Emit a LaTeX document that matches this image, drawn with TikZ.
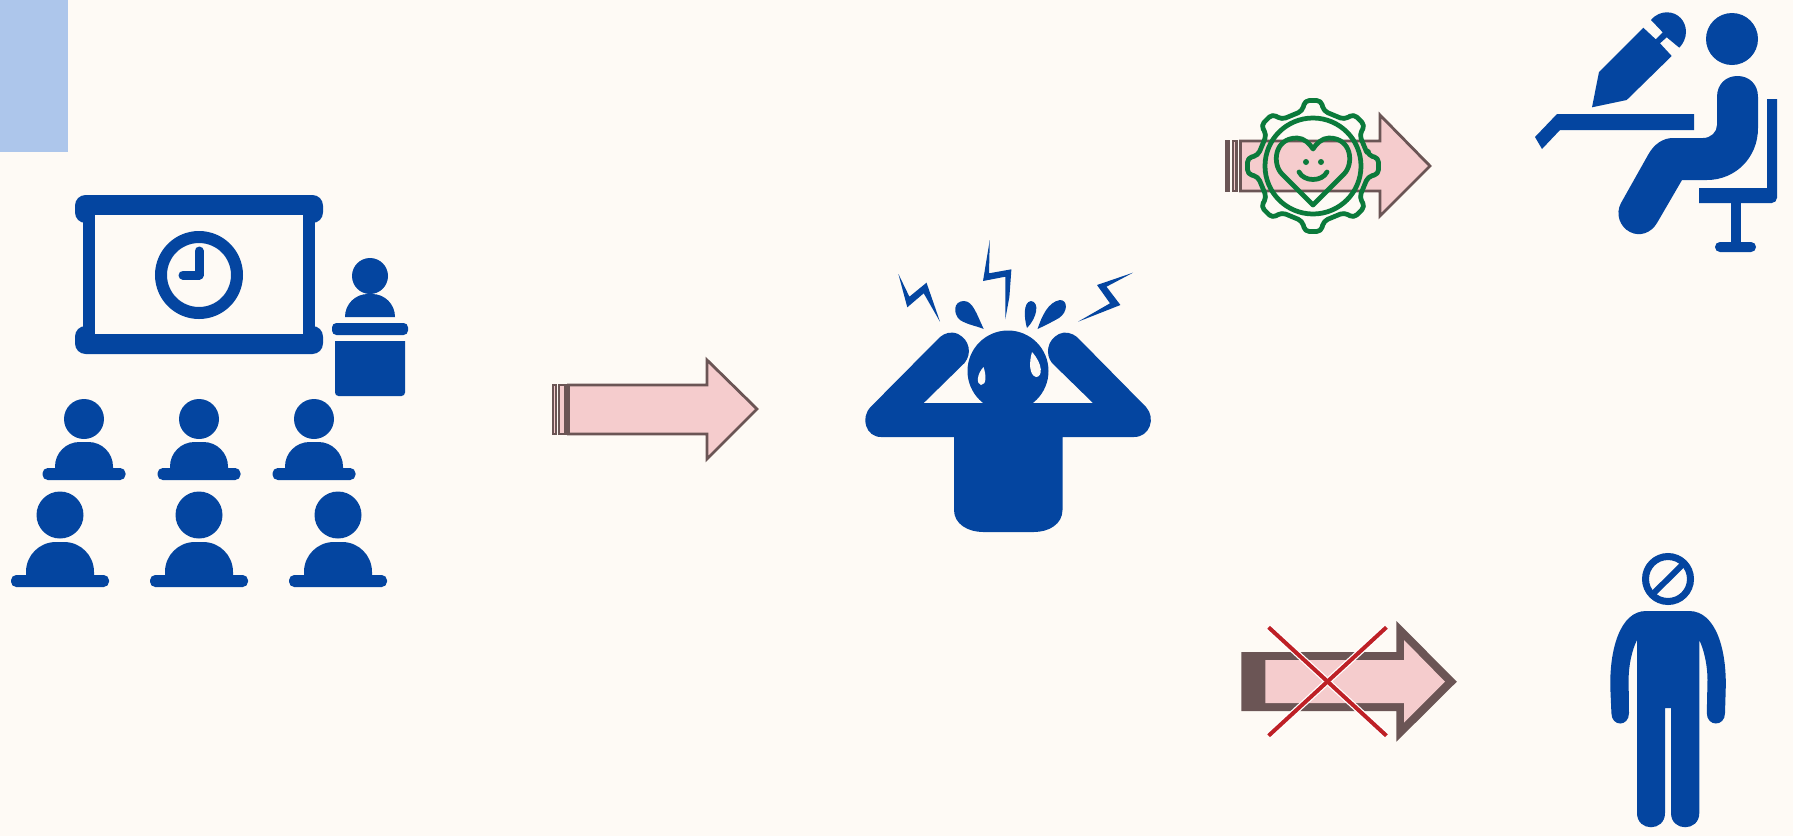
\documentclass[tikz,border=0pt]{standalone}
\usepackage{tikz}
\definecolor{papercream}{HTML}{FEFAF5}
\definecolor{cornerblue}{HTML}{ADC6EB}
\definecolor{iconblue}{HTML}{0445A0}
\definecolor{arrowbrown}{HTML}{6B5555}
\definecolor{arrowpink}{HTML}{F5CCCD}
\definecolor{geargreen}{HTML}{0B7A3B}
\definecolor{crossred}{HTML}{BE2026}
\tikzset{
  icon/.style={fill=iconblue},
  arrowpart/.style={draw=arrowbrown,fill=arrowpink,line width=0.056cm,line join=miter},
  gearline/.style={draw=geargreen,line width=0.095cm,line join=round,line cap=round}
}

\begin{document}
\begin{tikzpicture}[x=0.02cm,y=-0.02cm]
    \useasboundingbox (0,0) rectangle (1793,836);
    \fill[papercream] (0,0) rectangle (1793,836);
    \fill[cornerblue] (0,0) rectangle (67.5,152);

    % board and clock
    \fill[icon,rounded corners=6pt] (75,195) rectangle (323,223);
    \fill[icon,rounded corners=6pt] (75,326) rectangle (323,354);
    \fill[icon] (83,210) rectangle (315,340);
    \fill[papercream] (95,215) rectangle (303,334);
    \draw[iconblue,line width=0.24cm] (199,275) circle (38);
    \draw[iconblue,line width=0.18cm,line cap=round,line join=round] (199,251) -- (199,275) -- (183,275);

    % presenter
    \fill[icon] (370,276) circle (18);
    \fill[icon] (345,317) [rounded corners=13pt] -- (345,294) -- (395,294) [sharp corners] -- (395,317) -- cycle;
    \fill[icon,rounded corners=2.5pt] (332,323) rectangle (408,335);
    \fill[icon] (335,341) -- (405,341) [rounded corners=2pt] -- (405,396) -- (335,396) [sharp corners] -- cycle;

    % audience
    \foreach \px in {84,199,314}{
      \fill[icon] (\px,419) circle (20);
      \fill[icon] (\px-29,472) [rounded corners=14pt] -- (\px-29,442) -- (\px+29,442) [sharp corners] -- (\px+29,472) -- cycle;
      \fill[icon,rounded corners=3pt] (\px-41.5,468) rectangle (\px+41.5,480);
    }
    \foreach \px in {60,199,338}{
      \fill[icon] (\px,515) circle (23.5);
      \fill[icon] (\px-34,580) [rounded corners=17pt] -- (\px-34,542) -- (\px+34,542) [sharp corners] -- (\px+34,580) -- cycle;
      \fill[icon,rounded corners=3pt] (\px-49,575) rectangle (\px+49,587);
    }

    % first arrow
    \draw[arrowpart] (553,385) rectangle (556,434);
    \draw[arrowpart] (559,385) rectangle (565.5,434);
    \draw[arrowpart] (568.5,385) -- (707,385) -- (707,360) -- (757,409) -- (707,459) -- (707,434) -- (568.5,434) -- cycle;

    % stressed figure
    \fill[icon] (1008,371) circle (40.5);
    \fill[icon] (982,403) -- (923.7,403) -- (964.5,363)
      .. controls (972,354) and (970,340) .. (958,334)
      .. controls (951,331) and (945,333) .. (940,337)
      -- (870.6,407) .. controls (860,418) and (866,437) .. (881,437)
      -- (954,437) -- (954,510) .. controls (954,524) and (968,532) .. (983,532)
      -- (1034,532) .. controls (1049,532) and (1062.5,524) .. (1062.5,510)
      -- (1062.5,437) -- (1134,437) .. controls (1150,437) and (1156,418) .. (1146,407)
      -- (1077,337) .. controls (1072,333) and (1065,331) .. (1059,334)
      .. controls (1047,340) and (1045,354) .. (1052,363)
      -- (1093,403) -- (1035,403) -- cycle;
    \fill[papercream] (1032,352) .. controls (1029,362) and (1029,375) .. (1036,377)
      .. controls (1043,377) and (1043,364) .. (1032,352) -- cycle;
    \fill[papercream] (983.5,367) .. controls (977,374) and (976,384) .. (981,385)
      .. controls (987,385) and (986,374) .. (983.5,367) -- cycle;
    \fill[icon] (898.4,274) -- (909.4,296.7) -- (926.5,282.7) -- (940,321.7) -- (923.7,293.3) -- (907.3,307.3) -- cycle;
    \fill[icon] (989.8,240) -- (989,273.3) -- (1011.4,269.3) -- (1009.4,296.7) -- (1005.3,319.3) -- (1005.3,276.7) -- (983,281) -- cycle;
    \fill[icon] (1133,272.7) -- (1106.5,286.7) -- (1120.4,305) -- (1078,321.7) -- (1110,303.3) -- (1097,285) -- cycle;
    \fill[icon] (983.7,329) .. controls (977,326) and (968,325) .. (960,320)
      .. controls (953,314) and (953,301) .. (964,301)
      .. controls (973,301) and (977,315) .. (983.7,329) -- cycle;
    \fill[icon] (1027,328) .. controls (1024,318) and (1023,302) .. (1031,301)
      .. controls (1040,302) and (1037,318) .. (1027,328) -- cycle;
    \fill[icon] (1037.5,329) .. controls (1042,316) and (1048,302) .. (1060,300)
      .. controls (1068,300) and (1068,312) .. (1059,318)
      .. controls (1052,322) and (1044,326) .. (1037.5,329) -- cycle;

    % second arrow with gear
    \draw[arrowpart] (1226,141) rectangle (1228.5,191);
    \draw[arrowpart] (1233,141) rectangle (1236.5,191);
    \draw[arrowpart] (1240.5,141) -- (1380,141) -- (1380,115) -- (1430,166) -- (1380,216) -- (1380,191) -- (1240.5,191) -- cycle;
    \draw[gearline,rounded corners=2.5pt,shift={(1313,166)}] (-11:56)
      \foreach \a in {0,45,...,315}{ -- (\a-11:56) -- (\a-7:66) -- (\a+7:66) -- (\a+11:56) } -- cycle;
    \draw[gearline] (1313,166) circle (48);
    \draw[gearline] (1313,205) -- (1282,174) .. controls (1272,164) and (1274,138) .. (1297,138)
      .. controls (1304,138) and (1310,144) .. (1313,149)
      .. controls (1316,144) and (1322,138) .. (1329,138)
      .. controls (1352,138) and (1354,164) .. (1344,174) -- cycle;
    \fill[geargreen] (1306,162) circle (3);
    \fill[geargreen] (1321,162) circle (3);
    \draw[gearline] (1299,172) .. controls (1304,182) and (1322,182) .. (1327,172);

    % writer at desk
    \fill[icon] (1732,39) circle (26);
    \fill[icon] (1717,97) .. controls (1717,84) and (1726,76) .. (1737.5,76)
      .. controls (1749,76) and (1758,84) .. (1758,97) -- (1758,128)
      .. controls (1758,158) and (1735,180) .. (1707,180) -- (1682,180) -- (1657,223)
      .. controls (1651,233) and (1640,237) .. (1630,232)
      .. controls (1620,227) and (1615,214) .. (1621,203)
      -- (1648,155) .. controls (1654,144) and (1663,138) .. (1673,138)
      -- (1703,138) .. controls (1711,138) and (1717,132) .. (1717,125) -- cycle;
    \fill[icon] (1557,114) -- (1694,114) -- (1694,130) -- (1560,130) -- (1542,149) -- (1535,137) -- cycle;
    \fill[icon] (1767,99) -- (1777,99) [rounded corners=3pt] -- (1777,203) [sharp corners] -- (1699,203) -- (1699,188) -- (1767,188) -- cycle;
    \fill[icon] (1731,200) rectangle (1741,245);
    \fill[icon,rounded corners=2.8pt] (1715,242) rectangle (1756,252);
    \fill[icon] (1592,107.3) -- (1599,72) -- (1643.3,27.7) -- (1655.7,39.3) -- (1662.7,32.3) -- (1651,20)
      .. controls (1656,14) and (1662,12.3) .. (1667,12.3) .. controls (1678,12.3) and (1686,21) .. (1686,32)
      .. controls (1686,38) and (1683,44) .. (1679.3,47.7)
      -- (1666.7,37.3) -- (1660,43.3) -- (1671.7,56) -- (1626.7,100) -- cycle;

    % crossed arrow
    \fill[arrowbrown] (1241.4,652) -- (1396.4,652) -- (1396.4,621) -- (1456.8,681.7) -- (1396.4,741.7) -- (1396.4,711) -- (1241.4,711) -- cycle;
    \fill[arrowpink] (1265.4,660) -- (1404,660) -- (1404,640) -- (1445,681.7) -- (1404,722.7) -- (1404,703) -- (1265.4,703) -- cycle;
    \draw[white,line width=0.13cm] (1268.6,627.3) -- (1386.4,735.7);
    \draw[white,line width=0.13cm] (1386.4,627.3) -- (1268.6,735.7);
    \draw[crossred,line width=0.08cm] (1268.6,627.3) -- (1386.4,735.7);
    \draw[crossred,line width=0.08cm] (1386.4,627.3) -- (1268.6,735.7);

    % figure with banned head
    \draw[iconblue,line width=0.14cm] (1668,579) circle (22.5);
    \draw[iconblue,line width=0.12cm] (1683.6,563.5) -- (1652.4,594.5);
    \fill[icon] (1646,611) -- (1689,611) .. controls (1716,611) and (1727,650) .. (1725.7,690)
      -- (1725,713) .. controls (1725,727) and (1706.8,727) .. (1706.8,713)
      -- (1707.5,680) .. controls (1707.5,665) and (1704,650) .. (1699.3,640)
      -- (1699.3,813) .. controls (1699.3,832) and (1671,832) .. (1671,813)
      -- (1671,708) -- (1665,708) -- (1665,813) .. controls (1665,832) and (1637,832) .. (1637,813)
      -- (1637,640) .. controls (1632,650) and (1628.6,665) .. (1628.6,680)
      -- (1629,713) .. controls (1629,727) and (1611.4,727) .. (1611.4,713)
      -- (1610.4,690) .. controls (1609,650) and (1620,611) .. (1646,611) -- cycle;
\end{tikzpicture}
\end{document}
